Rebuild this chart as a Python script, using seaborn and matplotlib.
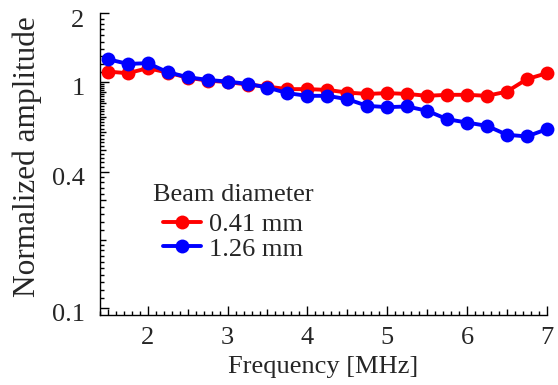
import matplotlib
matplotlib.use("Agg")
import matplotlib.pyplot as plt
import matplotlib.ticker as mticker
import matplotlib.transforms as mtransforms
import numpy as np
import pandas as pd
import seaborn as sns

# Data
freq = [1.5, 1.75, 2.0, 2.25, 2.5, 2.75, 3.0, 3.25, 3.5, 3.75, 4.0, 4.25,
        4.5, 4.75, 5.0, 5.25, 5.5, 5.75, 6.0, 6.25, 6.5, 6.75, 7.0]
amp_041 = [1.107, 1.089, 1.146, 1.096, 1.040, 1.010, 0.995, 0.970, 0.950, 0.926, 0.926, 0.919,
           0.894, 0.882, 0.889, 0.882, 0.865, 0.874, 0.874, 0.865, 0.903, 1.025, 1.089]
amp_126 = [1.256, 1.197, 1.206, 1.100, 1.046, 1.017, 1.000, 0.977, 0.941, 0.889, 0.865, 0.865,
           0.836, 0.781, 0.771, 0.776, 0.743, 0.682, 0.659, 0.637, 0.582, 0.572, 0.616]
labels = ["0.41 mm", "1.26 mm"]
colors = ["#ff0000", "#0000ff"]

df = pd.DataFrame({
    "freq": freq * 2,
    "amp": amp_041 + amp_126,
    "beam": [labels[0]] * len(freq) + [labels[1]] * len(freq),
})

sns.set_style("ticks")
plt.rcParams["font.family"] = ["Liberation Serif", "DejaVu Serif"]

fig = plt.figure(figsize=(5.58, 3.85), dpi=100)
ax = fig.add_axes([0.179, 0.182, 0.801, 0.783])

sns.lineplot(data=df, x="freq", y="amp", hue="beam", palette=colors,
             marker="o", markersize=10, markeredgewidth=0, linewidth=2.8,
             ax=ax, clip_on=False)

ax.set_yscale("log")
ax.set_xlim(1.4, 7.0)
ax.set_ylim(0.093, 2.0)

# x ticks: integers long, halves medium, tenths short
xmaj = np.arange(1.5, 7.01, 0.5)
ax.xaxis.set_major_locator(mticker.FixedLocator(xmaj))
ax.xaxis.set_major_formatter(mticker.FuncFormatter(
    lambda v, p: f"{v:.0f}" if abs(v - round(v)) < 1e-6 else ""))
ax.xaxis.set_minor_locator(mticker.MultipleLocator(0.1))

# y ticks
ymaj = [0.1, 0.2, 0.3, 0.4, 0.5, 0.6, 0.7, 0.8, 0.9, 1.0, 2.0]
ylab = {0.1: "0.1", 0.4: "0.4", 1.0: "1", 2.0: "2"}
ymin = list(np.arange(0.11, 0.195, 0.01)) + \
    [v for v in np.arange(0.22, 0.99, 0.02) if abs(v * 10 - round(v * 10)) > 1e-6] + \
    list(np.arange(1.1, 1.95, 0.1))
ax.yaxis.set_major_locator(mticker.FixedLocator(ymaj))
ax.yaxis.set_major_formatter(mticker.FuncFormatter(
    lambda v, p: next((s for k, s in ylab.items() if abs(v - k) < 1e-6), "")))
ax.yaxis.set_minor_locator(mticker.FixedLocator(ymin))
ax.yaxis.set_minor_formatter(mticker.NullFormatter())

ax.tick_params(which="both", direction="in", width=1, color="black",
               labelsize=19, top=False, right=False)
ax.tick_params(axis="x", which="major", pad=9)
ax.tick_params(axis="y", which="major", pad=11)
ax.tick_params(which="minor", length=2.7)

fig.canvas.draw()
for t, v in zip(ax.xaxis.get_major_ticks(), xmaj):
    t.tick1line.set_markersize(6.2 if abs(v - round(v)) < 1e-6 else 4.3)
for t, v in zip(ax.yaxis.get_major_ticks(), ymaj):
    labelled = any(abs(v - k) < 1e-6 for k in ylab)
    t.tick1line.set_markersize(6.2 if labelled else 4.3)

# y tick labels sit a little below their ticks in the reference
shift = mtransforms.ScaledTranslation(0, -0.05, fig.dpi_scale_trans)
for lab in ax.get_yticklabels():
    lab.set_transform(lab.get_transform() + shift)

sns.despine(ax=ax)
for s in ["left", "bottom"]:
    ax.spines[s].set_linewidth(1)
    ax.spines[s].set_color("black")

ax.set_xlabel("Frequency [MHz]", fontsize=19, labelpad=5)
ax.set_ylabel("Normalized amplitude", fontsize=22.5)
ax.yaxis.set_label_coords(-0.13, 0.526)

leg = ax.legend(title="Beam diameter", loc="upper left",
                bbox_to_anchor=(0.119, 0.434), frameon=False, fontsize=19,
                title_fontsize=19, handlelength=1.45, handletextpad=0.3,
                labelspacing=0.05, borderpad=0, borderaxespad=0)
leg._legend_box.sep = 4.5

fig.savefig("out.png", dpi=100)
